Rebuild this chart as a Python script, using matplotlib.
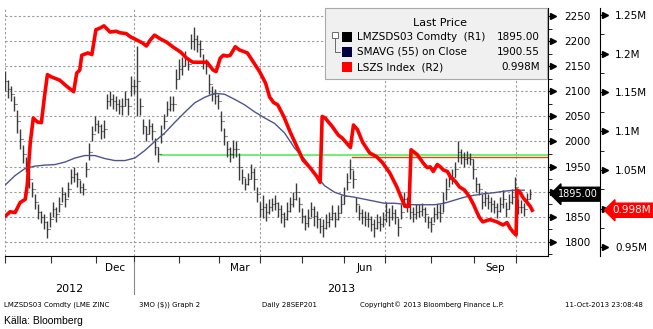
import numpy as np
import pandas as pd
import matplotlib
matplotlib.use("Agg")
import matplotlib.pyplot as plt
import matplotlib.transforms as mtrans
from matplotlib.patches import Rectangle
from matplotlib.lines import Line2D
from matplotlib.ticker import FuncFormatter, MultipleLocator

W, H = 653, 329

# LME trading days, 1 Oct 2012 - 11 Oct 2013
holidays = ["2012-12-25", "2012-12-26", "2013-01-01", "2013-03-29",
            "2013-04-01", "2013-05-06", "2013-05-27", "2013-08-26"]
days = pd.bdate_range("2012-10-01", "2013-10-11", freq="C", holidays=holidays)

# LMZSDS03 close (approx. every 1.5 trading days) and daily range
close = [2120, 2105, 2095, 2075, 2040, 2005, 1975, 1955, 1925, 1905,
         1880, 1860, 1850, 1840, 1825, 1845, 1865, 1855, 1875, 1895,
         1885, 1905, 1930, 1935, 1925, 1910, 1905, 1945, 1980, 2015,
         2035, 2030, 2020, 2025, 2080, 2085, 2080, 2075, 2070, 2070,
         2085, 2070, 2110, 2110, 2120, 2070, 2030, 2015, 2030, 2020,
         1990, 1975, 2015, 2040, 2065, 2075, 2075, 2125, 2145, 2150,
         2165, 2155, 2200, 2205, 2195, 2185, 2160, 2150, 2115, 2095,
         2090, 2080, 2040, 2010, 1985, 1975, 1985, 1985, 1950, 1930,
         1915, 1925, 1940, 1925, 1895, 1865, 1870, 1860, 1870, 1875,
         1878, 1865, 1855, 1845, 1862, 1875, 1885, 1900, 1875, 1852,
         1838, 1848, 1865, 1852, 1845, 1832, 1828, 1840, 1845, 1858,
         1845, 1858, 1875, 1892, 1920, 1945, 1925, 1875, 1858, 1850,
         1846, 1845, 1836, 1828, 1840, 1836, 1845, 1860, 1850, 1858,
         1850, 1830, 1860, 1885, 1875, 1860, 1855, 1860, 1862, 1865,
         1855, 1840, 1835, 1855, 1860, 1858, 1880, 1905, 1925, 1930,
         1945, 1980, 1970, 1965, 1968, 1965, 1945, 1915, 1905, 1880,
         1887, 1880, 1875, 1870, 1862, 1875, 1885, 1865, 1880, 1890,
         1910, 1870, 1870, 1865, 1885, 1895]
spread = [40, 35, 30, 30, 45, 40, 35, 30, 35, 30,
          30, 30, 25, 30, 35, 30, 30, 30, 30, 30,
          30, 30, 30, 30, 30, 25, 25, 30, 35, 30,
          30, 25, 30, 35, 30, 30, 30, 30, 30, 35,
          30, 35, 40, 30, 140, 35, 30, 30, 30, 35,
          35, 30, 35, 30, 30, 30, 30, 40, 40, 35,
          30, 25, 30, 45, 35, 35, 30, 30, 40, 30,
          30, 30, 40, 35, 30, 30, 35, 30, 55, 30,
          25, 25, 30, 45, 30, 30, 45, 35, 30, 25,
          30, 30, 35, 30, 35, 30, 30, 35, 30, 30,
          30, 35, 30, 40, 35, 30, 35, 30, 30, 30,
          30, 30, 35, 35, 35, 40, 35, 30, 30, 30,
          30, 30, 30, 35, 30, 30, 30, 40, 35, 30,
          30, 35, 30, 30, 30, 30, 30, 30, 25, 25,
          30, 25, 30, 30, 30, 35, 40, 45, 30, 30,
          30, 40, 30, 30, 25, 25, 40, 30, 25, 30,
          30, 30, 30, 25, 30, 30, 35, 30, 30, 30,
          40, 30, 25, 25, 25, 20]

# SMAVG(55), sampled about every 5 trading days
smavg = [1913, 1932, 1946, 1951, 1953, 1954, 1959, 1967, 1972, 1972,
         1966, 1962, 1962, 1967, 1982, 2000, 2017, 2038, 2058, 2077,
         2088, 2096, 2094, 2084, 2073, 2059, 2047, 2036, 2017, 1987,
         1965, 1937, 1912, 1899, 1892, 1889, 1885, 1881, 1877, 1877,
         1875, 1874, 1874, 1874, 1877, 1883, 1889, 1893, 1896, 1898,
         1901, 1903, 1903]

# LSZS Index (R2), millions; day = trading day index
lszs_day = [0, 2.5, 5, 7.5, 10, 11, 12.5, 14, 16, 18, 19.5, 21, 23, 27, 31, 34,
            35.5, 37, 38, 41, 43, 45, 47, 49, 52, 55, 57, 60, 62, 65, 68, 70,
            72, 74, 77, 80, 83, 87, 90, 93, 97, 100, 103, 104.5, 106.5, 108,
            110, 111.5, 114, 116, 120, 123, 126, 129, 131, 133, 135, 138, 141,
            144.5, 147.5, 151, 154.5, 156, 157, 158.5, 162, 165, 167, 169, 171,
            172.5, 174.5, 177, 180.5, 184, 187, 190.5, 194, 196.5, 198, 200,
            201, 204, 207, 209, 210.5, 212, 214, 215.5, 217, 219, 220.5, 223,
            225, 227.5, 230, 232, 233.5, 235, 236.5, 240, 243.5, 246.5, 248.5,
            250, 251.5, 253, 253.5, 255, 256.5, 258.5, 260, 261]
lszs_val = [0.990, 0.996, 0.995, 1.008, 1.012, 1.030, 1.085, 1.117, 1.112, 1.111,
            1.144, 1.173, 1.170, 1.166, 1.157, 1.151, 1.175, 1.179, 1.198, 1.201,
            1.199, 1.231, 1.233, 1.236, 1.228, 1.229, 1.227, 1.226, 1.222, 1.218,
            1.214, 1.210, 1.218, 1.224, 1.219, 1.215, 1.209, 1.202, 1.194, 1.189,
            1.189, 1.189, 1.179, 1.177, 1.194, 1.198, 1.197, 1.198, 1.209, 1.205,
            1.201, 1.189, 1.177, 1.162, 1.144, 1.137, 1.134, 1.119, 1.100, 1.080,
            1.063, 1.053, 1.041, 1.034, 1.119, 1.117, 1.106, 1.095, 1.091, 1.085,
            1.079, 1.108, 1.102, 1.086, 1.072, 1.067, 1.059, 1.046, 1.028, 1.012,
            1.003, 1.003, 1.076, 1.070, 1.059, 1.053, 1.054, 1.048, 1.057, 1.054,
            1.050, 1.048, 1.041, 1.035, 1.028, 1.024, 1.015, 1.005, 0.996, 0.988,
            0.983, 0.986, 0.983, 0.979, 0.982, 0.975, 0.970, 0.966, 1.024, 1.021,
            1.014, 1.008, 1.003, 0.998]

# horizontal reference lines: level, start day
green_level, green_start = 1972.5, 77
orange_level, orange_start = 1970, 172

last_price, last_ma, last_lszs = 1895.00, 1900.55, 0.998


def fx(x):
    return x / W


def fy(y):
    return 1 - y / H


fig = plt.figure(figsize=(W / 100, H / 100), dpi=100)
ax = fig.add_axes([fx(5), fy(256), fx(548) - fx(5), fy(8) - fy(256)])
ax2 = ax.twinx()

# price bars
bx = np.linspace(0, 260, len(close))
close = np.array(close, float)
half = np.array(spread, float) / 2
opn = np.r_[close[0], close[:-1]]
ax.vlines(bx, close - half, close + half, color="#3c3c3c", lw=1.0, zorder=3)
ax.hlines(opn, bx - 0.6, bx, color="#222222", lw=0.8, zorder=3)
ax.hlines(close, bx, bx + 0.6, color="#222222", lw=0.8, zorder=3)

mx = np.linspace(0, 257, len(smavg))
ax.plot(mx, smavg, color="#50548c", lw=1.0, zorder=4)

ax.plot([green_start, 269], [green_level] * 2, color="#66ee66", lw=1.3, zorder=2)
ax.plot([orange_start, 269], [orange_level] * 2, color="#c8501e", lw=1.0, zorder=2)

ax2.plot(lszs_day, lszs_val, color="#ff0000", lw=2.6, solid_joinstyle="round")

ax.set_xlim(0, 268.8)
ax.set_ylim(1771.9, 2265.9)
ax2.set_ylim(0.93894, 1.25902)

# month ticks and grid
mstart = [i for i in range(len(days)) if i == 0 or days[i].month != days[i - 1].month]
mstart.append(len(days))
ax.set_xticks(mstart[:-1])
ax.set_xticklabels([])
ax.tick_params(axis="x", direction="out", length=5, width=0.8, color="#333")
for i in mstart[:-1]:
    if days[i].month in (1, 4, 7, 10):
        ax.axvline(i, color="#9a9a9a", ls=(0, (2, 2)), lw=0.8, zorder=1)

blend = mtrans.blended_transform_factory(ax.transData, ax.transAxes)
for a, b in zip(mstart[:-1], mstart[1:]):
    m = days[a].month
    if m in (12, 3, 6, 9):
        ax.text((a + b) / 2, -0.05, days[a].strftime("%b"), transform=blend,
                ha="center", va="center", fontsize=7.5)
jan = mstart[3]
ax.text(jan / 2, -0.135, "2012", transform=blend, ha="center", va="center", fontsize=8)
ax.text((jan + 268.8) / 2, -0.135, "2013", transform=blend, ha="center", va="center", fontsize=8)
ax.add_line(Line2D([jan, jan], [-0.025, -0.155], transform=blend, color="#888", lw=0.8,
                   clip_on=False))

# right axes
for s in ["left", "top"]:
    ax.spines[s].set_visible(False)
    ax2.spines[s].set_visible(False)
ax2.spines["bottom"].set_visible(False)
ax.yaxis.tick_right()
p1 = np.arange(1800, 2251, 50)
ax.set_yticks(p1)
# the 1900 label sits under the last-price tag
ax.set_yticklabels(["" if v == 1900 else str(v) for v in p1])
ax.yaxis.set_minor_locator(MultipleLocator(25))
ax.tick_params(axis="y", which="major", length=3, pad=9, labelsize=7.5)
ax.tick_params(axis="y", which="minor", length=3)
ax.grid(axis="y", color="#9a9a9a", ls=(0, (2, 2)), lw=0.8)

r2_pos = (600 - 5) / (548 - 5)
ax2.spines["right"].set_position(("axes", r2_pos))
p2 = np.arange(0.95, 1.2501, 0.05)
ax2.set_yticks(p2)
ax2.yaxis.set_minor_locator(MultipleLocator(0.025))
ax2.yaxis.set_major_formatter(
    FuncFormatter(lambda v, p: "" if round(v, 2) == 1.0 else f"{round(v, 2):g}M"))
ax2.tick_params(axis="y", which="major", length=3, pad=8, labelsize=7.5)
ax2.tick_params(axis="y", which="minor", length=3)

t1 = mtrans.blended_transform_factory(ax.transAxes, ax.transData)
ax.plot(np.full(len(p1), 1 + 5 / 543), p1, transform=t1, ls="none", marker=">",
        ms=4.5, color="black", clip_on=False)
t2 = mtrans.blended_transform_factory(ax2.transAxes, ax2.transData)
ax2.plot(np.full(len(p2), r2_pos + 5 / 543), p2, transform=t2, ls="none", marker=">",
         ms=4.5, color="black", clip_on=False)

# last value tags
ax.text(1 + 10 / 543, last_price, f"{last_price:.2f}", transform=t1, color="white",
        fontsize=7, ha="left", va="center", zorder=10,
        bbox=dict(boxstyle="larrow,pad=0.2", fc="black", ec="black"))
ax2.text(r2_pos + 12 / 543, last_lszs, f"{last_lszs:.3f}M", transform=t2, color="white",
         fontsize=7.5, ha="left", va="center", zorder=10,
         bbox=dict(boxstyle="larrow,pad=0.2", fc="#ff0000", ec="#ff0000"))

# legend box
fig.add_artist(Rectangle((fx(325), fy(79)), fx(222), 71 / H, transform=fig.transFigure,
                         fc="#f0f0f0", ec="#a8a8a8", lw=0.8))
fig.text(fx(440), fy(23), "Last Price", ha="center", va="center", fontsize=8)
rows = [("LMZSDS03 Comdty  (R1)", f"{last_price:.2f}", "black", 37),
        ("SMAVG (55) on Close", f"{last_ma:.2f}", "#000040", 52),
        ("LSZS Index  (R2)", f"{last_lszs:.3f}M", "#ff0000", 67)]
for lab, val, col, yy in rows:
    fig.add_artist(Rectangle((fx(342), fy(yy + 5)), fx(10), 10 / H,
                             transform=fig.transFigure, fc=col, ec="none"))
    fig.text(fx(357), fy(yy), lab, ha="left", va="center", fontsize=7.5)
    fig.text(fx(540), fy(yy), val, ha="right", va="center", fontsize=7.5)
fig.add_artist(Rectangle((fx(332), fy(38)), fx(6), 6 / H, transform=fig.transFigure,
                         fc="white", ec="#555", lw=0.6))
fig.add_artist(Line2D([fx(335), fx(335), fx(340)], [fy(38), fy(52), fy(52)],
                      transform=fig.transFigure, color="#555", lw=0.6))

# footer
foot = [(4, "LMZSDS03 Comdty (LME ZINC"), (139, "3MO ($)) Graph 2"),
        (262, "Daily 28SEP201"), (360, "Copyright\u00a9 2013 Bloomberg Finance L.P."),
        (565, "11-Oct-2013 23:08:48")]
for xx, s in foot:
    fig.text(fx(xx), fy(305), s, ha="left", va="center", fontsize=5)
fig.text(fx(4), fy(321), "K\u00e4lla: Bloomberg", ha="left", va="center", fontsize=7.5,
         family=["Liberation Sans Narrow", "Liberation Sans", "DejaVu Sans"])

fig.savefig("out.png", dpi=100)
